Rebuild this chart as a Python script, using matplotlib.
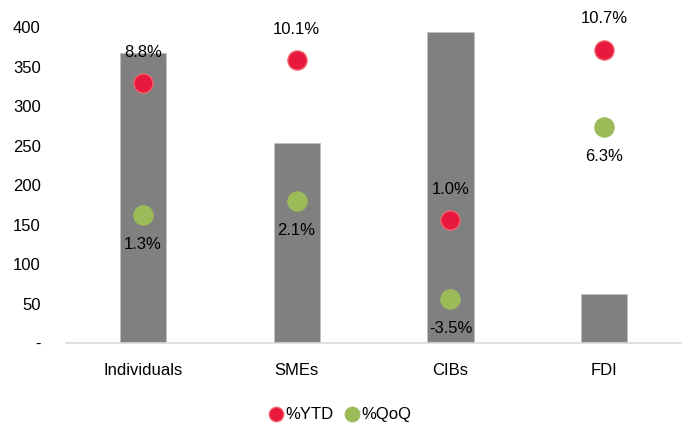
import matplotlib.pyplot as plt
import numpy as np

plt.rcParams['font.family'] = ['Liberation Sans', 'DejaVu Sans']

categories = ["Individuals", "SMEs", "CIBs", "FDI"]
balance = [367, 253, 394, 62]
ytd = [8.8, 10.1, 1.0, 10.7]
qoq = [1.3, 2.1, -3.5, 6.3]

fig = plt.figure(figsize=(6.86, 4.30), dpi=100)
ax = fig.add_axes([0.096, 0.202, 0.897, 0.735])
x = np.arange(len(categories))

ax.bar(x, balance, width=0.3, color="#808080", edgecolor="#bfbfbf", linewidth=0.6, zorder=2)
ax.set_xlim(-0.5, len(categories) - 0.5)
ax.set_ylim(0, 400)
ax.set_yticks(range(0, 401, 50))
ax.set_yticklabels(["-"] + [str(v) for v in range(50, 401, 50)])
ax.set_xticks(x)
ax.set_xticklabels(categories)
ax.tick_params(axis="both", length=0, labelsize=12)
ax.tick_params(axis="x", pad=14)
ax.tick_params(axis="y", pad=18)
for s in ["top", "right", "left"]:
    ax.spines[s].set_visible(False)
ax.spines["bottom"].set_color("#d9d9d9")
ax.spines["bottom"].set_linewidth(1.2)

# percentage changes on a hidden secondary scale
ax2 = ax.twinx()
ax2.set_ylim(-6, 12)
ax2.set_axis_off()
ax2.scatter(x, ytd, s=190, color="#e8193c", edgecolor="#f0646e", linewidth=1, zorder=3, label="%YTD")
ax2.scatter(x, qoq, s=190, color="#9bbb59", edgecolor="#9bbb59", linewidth=1, zorder=3, label="%QoQ")
for xi, v in zip(x, ytd):
    ax2.annotate(f"{v:.1f}%", (xi, v), xytext=(0, 17), textcoords="offset points",
                 ha="center", va="bottom", fontsize=12)
for xi, v in zip(x, qoq):
    ax2.annotate(f"{v:.1f}%", (xi, v), xytext=(0, -16), textcoords="offset points",
                 ha="center", va="top", fontsize=12)

h, l = ax2.get_legend_handles_labels()
fig.legend(h, l, loc="center", bbox_to_anchor=(0.495, 0.037), ncol=2, frameon=False,
           fontsize=12, handletextpad=0.05, handlelength=1.0, columnspacing=0.6,
           markerscale=0.75)

fig.savefig("out.png", dpi=100)
